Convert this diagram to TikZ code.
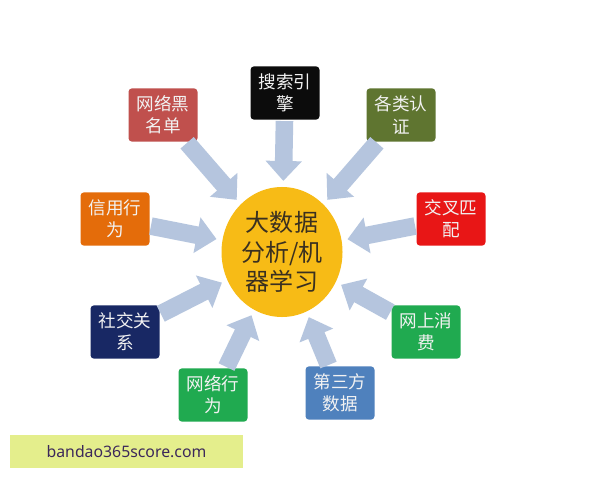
\documentclass[tikz,border=0pt]{standalone}
\usepackage{fontspec}
\setmainfont{Noto Sans CJK SC}
\newfontfamily\latinfont{Noto Sans}
\usetikzlibrary{arrows.meta,shapes.geometric}
\definecolor{hubyellow}{RGB}{247,187,22}
\definecolor{flowblue}{RGB}{181,197,222}
\definecolor{boxred}{RGB}{192,80,77}
\definecolor{boxblack}{RGB}{12,12,12}
\definecolor{boxolive}{RGB}{95,117,48}
\definecolor{boxorange}{RGB}{228,108,10}
\definecolor{boxbright}{RGB}{232,22,22}
\definecolor{boxnavy}{RGB}{24,40,100}
\definecolor{boxgreen}{RGB}{32,170,80}
\definecolor{boxsteel}{RGB}{79,129,189}
\definecolor{markfill}{RGB}{228,238,140}
\definecolor{markink}{RGB}{60,40,90}
\definecolor{hubink}{RGB}{58,48,32}
\tikzset{
  item/.style={rounded corners=3pt, minimum width=2.07cm, minimum height=1.6cm,
    text=white!90!gray, align=center, inner sep=1pt,
    font=\fontsize{15pt}{19pt}\selectfont},
  hub/.style={ellipse, fill=hubyellow, minimum width=3.63cm, minimum height=3.9cm,
    inner sep=0pt, align=center, text=hubink,
    font=\fontsize{20.5pt}{25pt}\selectfont},
  flow/.style={draw=flowblue, line width=15pt, shorten <=1pt, shorten >=5pt,
    -{Triangle[length=17pt, width=30pt]}}
}
\begin{document}
\begin{tikzpicture}[x=0.03cm, y=-0.03cm]
\useasboundingbox[fill=white] (0,0) rectangle (600,480);
% hub
\node[hub] (hub) at (282,252) {大数据\\分析/机\\器学习};
% sources
\node[item, fill=boxred]    (blacklist) at (163,115) {网络黑\\名单};
\node[item, fill=boxblack]  (search)    at (285,93)  {搜索引\\擎};
\node[item, fill=boxolive]  (cert)      at (401,115) {各类认\\证};
\node[item, fill=boxorange] (credit)    at (115,219) {信用行\\为};
\node[item, fill=boxbright] (match)     at (451,219) {交叉匹\\配};
\node[item, fill=boxnavy]   (social)    at (125,332) {社交关\\系};
\node[item, fill=boxgreen]  (shop)      at (426,332) {网上消\\费};
\node[item, fill=boxgreen]  (web)       at (213,395) {网络行\\为};
\node[item, fill=boxsteel]  (third)     at (340,393) {第三方\\数据};
% arrows
\foreach \src in {blacklist,search,cert,credit,match,social,shop,web,third}
  \draw[flow] (\src) -- (hub);
% watermark
\node[fill=markfill, minimum width=6.99cm, minimum height=0.99cm,
  text=markink, font=\latinfont\fontsize{13.5pt}{16pt}\selectfont]
  (mark) at (126.5,451.5) {bandao365score.com};
\end{tikzpicture}
\end{document}
